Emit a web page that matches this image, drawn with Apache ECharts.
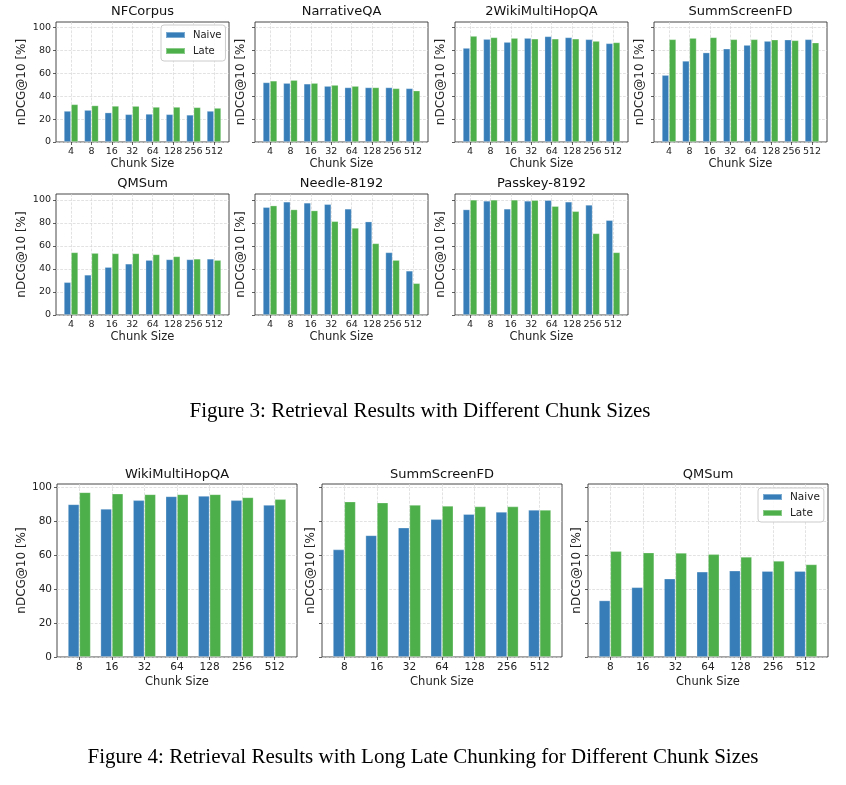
<!DOCTYPE html>
<html>
<head>
<meta charset="utf-8">
<script src="https://cdn.jsdelivr.net/npm/echarts@6/dist/echarts.min.js"></script>
<style>
html,body{margin:0;padding:0;background:#fff;}
#chart{width:846px;height:785px;}
</style>
</head>
<body>
<div id="chart"></div>
<script>
// ---------- DATA ----------
const chunkSizesFig3 = ['4', '8', '16', '32', '64', '128', '256', '512'];
const chunkSizesFig4 = ['8', '16', '32', '64', '128', '256', '512'];
const yTicks = [0, 20, 40, 60, 80, 100];

const nfcorpusNaive = [27.2, 28.0, 25.8, 24.3, 24.6, 24.3, 23.8, 27.2];
const nfcorpusLate  = [33.0, 32.0, 31.6, 31.5, 30.7, 30.7, 30.4, 29.8];

const narrativeNaive = [52.2, 51.6, 51.0, 49.0, 47.8, 47.8, 47.8, 47.0];
const narrativeLate  = [53.6, 54.2, 51.6, 49.9, 49.0, 47.8, 47.0, 45.0];

const wiki2Naive = [82.3, 90.1, 87.5, 91.0, 92.5, 91.6, 89.9, 86.4];
const wiki2Late  = [92.8, 91.6, 91.0, 90.4, 90.4, 90.4, 88.4, 87.2];

const summNaive = [58.6, 71.0, 78.3, 81.7, 84.9, 88.4, 89.6, 89.9];
const summLate  = [89.9, 91.0, 91.6, 89.9, 89.9, 89.6, 89.0, 87.0];

const qmsumNaive = [28.5, 34.9, 41.6, 44.5, 47.7, 48.3, 48.3, 48.8];
const qmsumLate  = [54.4, 53.8, 53.5, 53.5, 52.6, 50.9, 48.8, 47.7];

const needleNaive = [93.6, 98.3, 97.4, 96.2, 92.2, 81.1, 54.4, 38.4];
const needleLate  = [95.0, 91.6, 90.7, 81.4, 75.6, 62.2, 47.7, 27.6];

const passkeyNaive = [91.6, 99.1, 92.2, 99.1, 99.7, 98.3, 95.6, 82.3];
const passkeyLate  = [100.0, 100.0, 100.0, 99.7, 94.5, 90.1, 70.9, 54.4];

const longWikiNaive = [90.2, 87.5, 92.6, 94.9, 95.1, 92.6, 89.8];
const longWikiLate  = [97.3, 96.5, 96.1, 96.1, 96.1, 94.3, 93.2];

const longSummNaive = [63.5, 71.9, 76.4, 81.4, 84.4, 85.7, 86.9];
const longSummLate  = [91.8, 91.2, 89.8, 89.3, 88.9, 88.9, 86.9];

const longQmsumNaive = [33.4, 41.2, 46.3, 50.4, 51.0, 50.8, 50.8];
const longQmsumLate  = [62.5, 61.7, 61.5, 60.7, 59.2, 56.8, 54.7];

const seriesNames = ['Naive', 'Late'];
const fig3Caption = 'Figure 3: Retrieval Results with Different Chunk Sizes';
const fig4Caption = 'Figure 4: Retrieval Results with Long Late Chunking for Different Chunk Sizes';
const xAxisName = 'Chunk Size';
const yAxisName = 'nDCG@10 [%]';

// ---------- LAYOUT ----------
const BLUE = '#377eb8', GREEN = '#4daf4a';
const FONT = 'DejaVu Sans';
const panels = [
  {title: 'NFCorpus', cats: chunkSizesFig3, naive: nfcorpusNaive, late: nfcorpusLate, left: 56, top: 22, width: 173, height: 120, yLab: true, fig: 3},
  {title: 'NarrativeQA', cats: chunkSizesFig3, naive: narrativeNaive, late: narrativeLate, left: 255, top: 22, width: 173, height: 120, yLab: false, fig: 3},
  {title: '2WikiMultiHopQA', cats: chunkSizesFig3, naive: wiki2Naive, late: wiki2Late, left: 455, top: 22, width: 173, height: 120, yLab: false, fig: 3},
  {title: 'SummScreenFD', cats: chunkSizesFig3, naive: summNaive, late: summLate, left: 654, top: 22, width: 173, height: 120, yLab: false, fig: 3},
  {title: 'QMSum', cats: chunkSizesFig3, naive: qmsumNaive, late: qmsumLate, left: 56, top: 194, width: 173, height: 121, yLab: true, fig: 3},
  {title: 'Needle-8192', cats: chunkSizesFig3, naive: needleNaive, late: needleLate, left: 255, top: 194, width: 173, height: 121, yLab: false, fig: 3},
  {title: 'Passkey-8192', cats: chunkSizesFig3, naive: passkeyNaive, late: passkeyLate, left: 455, top: 194, width: 173, height: 121, yLab: false, fig: 3},
  {title: 'WikiMultiHopQA', cats: chunkSizesFig4, naive: longWikiNaive, late: longWikiLate, left: 57, top: 484, width: 240, height: 173, yLab: true, fig: 4},
  {title: 'SummScreenFD', cats: chunkSizesFig4, naive: longSummNaive, late: longSummLate, left: 322, top: 484, width: 240, height: 173, yLab: false, fig: 4},
  {title: 'QMSum', cats: chunkSizesFig4, naive: longQmsumNaive, late: longQmsumLate, left: 588, top: 484, width: 240, height: 173, yLab: false, fig: 4}
];

const fig3Max = Math.max(...panels.filter(p => p.fig === 3).flatMap(p => p.naive.concat(p.late))) * 1.05;
const fig4Max = Math.max(...panels.filter(p => p.fig === 4).flatMap(p => p.naive.concat(p.late))) * 1.05;

const grid = [], xAxis = [], yAxis = [], series = [], graphic = [];
panels.forEach((p, i) => {
  const f3 = p.fig === 3;
  const tickFs = f3 ? 9.5 : 10.5;
  const n = p.cats.length;
  const pad = 0.35 + 0.05 * (n - 1 + 0.7);
  grid.push({left: p.left, top: p.top, width: p.width, height: p.height, show: true,
    borderColor: '#333', borderWidth: 0.9, backgroundColor: 'transparent', containLabel: false});
  const cats = p.cats;
  xAxis.push({
    type: 'value', gridIndex: i, min: -pad, max: n - 1 + pad,
    axisLine: {show: false, onZero: false},
    axisTick: {show: true, customValues: cats.map((c, k) => k), length: 3, lineStyle: {color: '#333', width: 0.8}},
    axisLabel: {customValues: cats.map((c, k) => k), formatter: v => cats[Math.round(v)], fontSize: tickFs, fontFamily: FONT, color: '#222', margin: 5},
    splitLine: {show: true, lineStyle: {color: '#d6d6d6', type: 'dashed', width: 0.7}},
    name: xAxisName, nameLocation: 'middle', nameGap: f3 ? 16 : 19,
    nameTextStyle: {fontSize: 11.5, fontFamily: FONT, color: '#222'}
  });
  yAxis.push({
    type: 'value', gridIndex: i, min: 0, max: f3 ? fig3Max : fig4Max,
    axisLine: {show: false, onZero: false},
    axisTick: {show: true, customValues: yTicks, length: 3, lineStyle: {color: '#333', width: 0.8}},
    axisLabel: {show: p.yLab, customValues: yTicks, fontSize: tickFs, fontFamily: FONT, color: '#222', margin: 5},
    splitLine: {show: true, lineStyle: {color: '#d6d6d6', type: 'dashed', width: 0.7}},
    name: yAxisName, nameLocation: 'middle',
    nameGap: p.yLab ? 28 : (f3 ? 8 : 5),
    nameTextStyle: {fontSize: 12, fontFamily: FONT, color: '#222'}
  });
  [[seriesNames[0], p.naive, BLUE], [seriesNames[1], p.late, GREEN]].forEach(([name, vals, col]) => {
    series.push({
      type: 'bar', name: name, xAxisIndex: i, yAxisIndex: i,
      data: vals.map((v, k) => [k, v]),
      barWidth: '35%', barGap: '0%',
      itemStyle: {color: col, borderColor: 'rgba(255,255,255,0.35)', borderWidth: 0.8},
      emphasis: {disabled: true}, animation: false
    });
  });
  graphic.push({type: 'text', x: p.left + p.width / 2, y: f3 ? (p.top - 10) : (p.top - 9),
    style: {text: p.title, font: '13px "DejaVu Sans"', fill: '#111', align: 'center', verticalAlign: 'middle'}});
});

graphic.push({type: 'text', x: 420, y: 411,
  style: {text: fig3Caption, font: '21px "Liberation Serif"', fill: '#000', align: 'center', verticalAlign: 'middle'}});
graphic.push({type: 'text', x: 423, y: 757,
  style: {text: fig4Caption, font: '21px "Liberation Serif"', fill: '#000', align: 'center', verticalAlign: 'middle'}});

const legendBase = {
  orient: 'vertical', data: seriesNames, icon: 'rect', itemWidth: 19, itemHeight: 6,
  itemGap: 4, borderColor: '#cccccc', borderWidth: 1, borderRadius: 3,
  backgroundColor: 'rgba(255,255,255,0.85)', selectedMode: false,
  textStyle: {fontFamily: FONT, color: '#222', lineHeight: 12, padding: [0, 0, 0, 3]}
};
const legend = [
  Object.assign({}, legendBase, {left: 161, top: 25, padding: [4, 4, 4, 4], textStyle: Object.assign({}, legendBase.textStyle, {fontSize: 10})}),
  Object.assign({}, legendBase, {left: 758, top: 488, padding: [3, 4, 3, 4], textStyle: Object.assign({}, legendBase.textStyle, {fontSize: 10.5})})
];

const chart = echarts.init(document.getElementById('chart'), null, {renderer: 'canvas'});
chart.setOption({animation: false, backgroundColor: '#fff', grid, xAxis, yAxis, series, legend, graphic});
</script>
</body>
</html>
